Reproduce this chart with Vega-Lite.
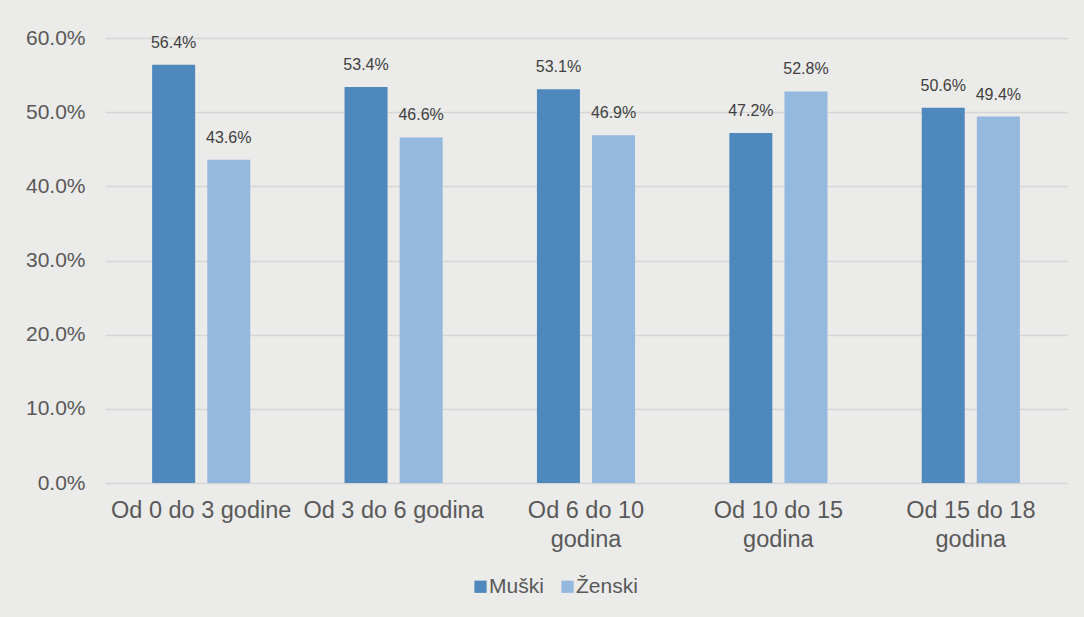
{
  "$schema": "https://vega.github.io/schema/vega-lite/v6.json",
  "autosize": {"type": "none"},
  "width": 962,
  "height": 445,
  "padding": {"left": 105, "top": 38, "right": 17, "bottom": 134},
  "background": "#ebebe9",
  "config": {
    "view": {"stroke": null},
    "font": "Liberation Sans",
    "axis": {"labelFont": "Liberation Sans", "labelColor": "#595959"}
  },
  "data": {
    "values": [
      {"kategorija": "Od 0 do 3 godine", "spol": "Muški", "udio": 0.564},
      {"kategorija": "Od 0 do 3 godine", "spol": "Ženski", "udio": 0.436},
      {"kategorija": "Od 3 do 6 godina", "spol": "Muški", "udio": 0.534},
      {"kategorija": "Od 3 do 6 godina", "spol": "Ženski", "udio": 0.466},
      {"kategorija": "Od 6 do 10 godina", "spol": "Muški", "udio": 0.531},
      {"kategorija": "Od 6 do 10 godina", "spol": "Ženski", "udio": 0.469},
      {"kategorija": "Od 10 do 15 godina", "spol": "Muški", "udio": 0.472},
      {"kategorija": "Od 10 do 15 godina", "spol": "Ženski", "udio": 0.528},
      {"kategorija": "Od 15 do 18 godina", "spol": "Muški", "udio": 0.506},
      {"kategorija": "Od 15 do 18 godina", "spol": "Ženski", "udio": 0.494}
    ]
  },
  "encoding": {
    "x": {
      "field": "kategorija",
      "type": "nominal",
      "sort": null,
      "title": null,
      "scale": {"paddingInner": 0.49, "paddingOuter": 0.245},
      "axis": {
        "labelAngle": 0,
        "labelFontSize": 23.5,
        "labelPadding": 15,
        "labelLineHeight": 29,
        "labelBaseline": "top",
        "labelOverlap": false,
        "labelLimit": 300,
        "ticks": false,
        "domain": false,
        "labelExpr": "length(datum.label) > 16 ? [slice(datum.label, 0, lastindexof(datum.label, ' ')), slice(datum.label, lastindexof(datum.label, ' ') + 1)] : datum.label"
      }
    },
    "xOffset": {
      "field": "spol",
      "type": "nominal",
      "scale": {"paddingInner": 0.22, "paddingOuter": 0}
    },
    "y": {
      "field": "udio",
      "type": "quantitative",
      "title": null,
      "scale": {"domain": [0, 0.6]},
      "axis": {
        "format": ".1%",
        "values": [0, 0.1, 0.2, 0.3, 0.4, 0.5, 0.6],
        "labelOverlap": false,
        "labelFontSize": 21,
        "labelPadding": 20,
        "ticks": false,
        "domain": false,
        "gridColor": "#d6d6d6",
        "gridWidth": 1.3
      }
    }
  },
  "layer": [
    {
      "mark": {"type": "bar"},
      "encoding": {
        "color": {
          "field": "spol",
          "type": "nominal",
          "title": null,
          "scale": {"domain": ["Muški", "Ženski"], "range": ["#4f88bd", "#95b8df"]},
          "legend": {
            "orient": "none",
            "legendX": 365,
            "legendY": 538,
            "direction": "horizontal",
            "symbolType": "square",
            "symbolSize": 150,
            "symbolStrokeWidth": 0,
            "labelFontSize": 21,
            "labelColor": "#595959",
            "labelFont": "Liberation Sans",
            "columnPadding": 13,
            "labelOffset": -2
          }
        }
      }
    },
    {
      "mark": {"type": "text", "dy": -14, "baseline": "bottom", "fontSize": 16, "color": "#404040"},
      "encoding": {
        "text": {"field": "udio", "type": "quantitative", "format": ".1%"}
      }
    }
  ]
}
